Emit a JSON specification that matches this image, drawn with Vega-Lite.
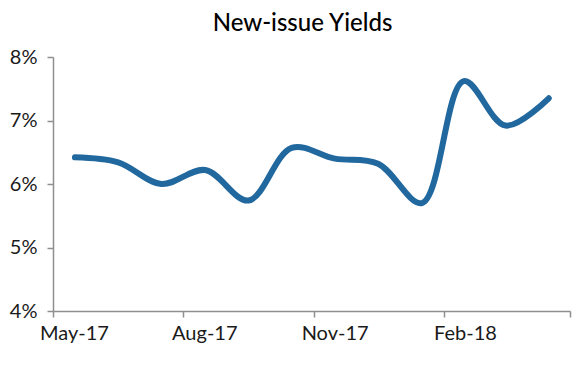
{
  "$schema": "https://vega.github.io/schema/vega-lite/v6.json",
  "width": 517,
  "height": 254,
  "autosize": {"type": "none"},
  "padding": {"left": 53, "top": 57, "right": 17, "bottom": 57},
  "background": "white",
  "config": {"view": {"stroke": null}, "font": "Lato"},
  "title": {
    "text": "New-issue Yields",
    "font": "Lato",
    "fontSize": 24,
    "fontWeight": 500,
    "color": "#000000",
    "anchor": "middle",
    "dx": -9,
    "offset": 11
  },
  "data": {
    "values": [
      {"date": "2017-05-01", "yield": 6.42},
      {"date": "2017-06-01", "yield": 6.34},
      {"date": "2017-07-01", "yield": 6.0},
      {"date": "2017-08-01", "yield": 6.22},
      {"date": "2017-09-01", "yield": 5.74},
      {"date": "2017-10-01", "yield": 6.57},
      {"date": "2017-11-01", "yield": 6.4},
      {"date": "2017-12-01", "yield": 6.32},
      {"date": "2018-01-01", "yield": 5.7},
      {"date": "2018-02-01", "yield": 7.62},
      {"date": "2018-03-01", "yield": 6.92},
      {"date": "2018-04-01", "yield": 7.35}
    ]
  },
  "mark": {
    "type": "line",
    "interpolate": "catmull-rom",
    "strokeWidth": 6,
    "strokeCap": "round",
    "color": "#21689f"
  },
  "encoding": {
    "x": {
      "field": "date",
      "type": "temporal",
      "timeUnit": "yearmonth",
      "bandPosition": 0.5,
      "title": null,
      "scale": {"domain": [{"year": 2017, "month": 5, "date": 1}, {"year": 2018, "month": 5, "date": 1}]},
      "axis": {
        "values": [
          {"year": 2017, "month": 5, "date": 1},
          {"year": 2017, "month": 8, "date": 1},
          {"year": 2017, "month": 11, "date": 1},
          {"year": 2018, "month": 2, "date": 1},
          {"year": 2018, "month": 5, "date": 1}
        ],
        "format": "%b-%y",
        "labelExpr": "month(datum.value) == 4 && year(datum.value) == 2018 ? '' : datum.label",
        "labelOffset": 21,
        "labelAlign": "center",
        "labelFontSize": 20,
        "labelColor": "#1a1a1a",
        "labelPadding": 6,
        "domainColor": "#8f8f8f",
        "domainWidth": 1.5,
        "tickColor": "#8f8f8f",
        "tickWidth": 1.5,
        "tickSize": 6,
        "grid": false,
        "labelFlush": false,
        "labelOverlap": false
      }
    },
    "y": {
      "field": "yield",
      "type": "quantitative",
      "title": null,
      "scale": {"domain": [4, 8], "nice": false, "zero": false},
      "axis": {
        "values": [4, 5, 6, 7, 8],
        "labelExpr": "datum.value + '%'",
        "labelFontSize": 20,
        "labelColor": "#1a1a1a",
        "labelPadding": 10,
        "domainColor": "#8f8f8f",
        "domainWidth": 1.5,
        "tickColor": "#8f8f8f",
        "tickWidth": 1.5,
        "tickSize": 6,
        "grid": false
      }
    }
  }
}
